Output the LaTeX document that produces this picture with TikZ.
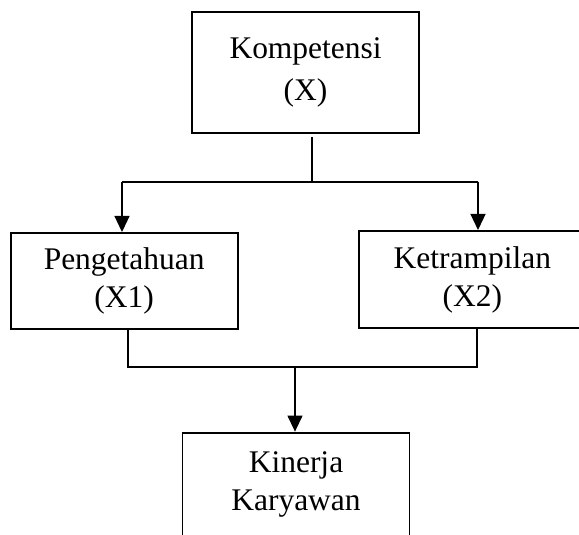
\documentclass[tikz,border=0pt]{standalone}
\usepackage{fontspec}
\setmainfont{Liberation Serif}
\usepackage{tikz}
\usetikzlibrary{arrows.meta}
\tikzset{box/.style={draw, line width=1.3pt, align=center, minimum width=5.675cm,
                     font=\fontsize{22.4}{27}\selectfont},
         link/.style={line width=1.15pt},
         arrow/.style={line width=1.6pt, -{Triangle[length=11.5pt,width=10.5pt]}}}

\begin{document}
\begin{tikzpicture}
\useasboundingbox (0,0) rectangle (14.475,13.35);
\node [box, minimum height=3.025cm] (kompetensi) at (7.64,11.54) {Kompetensi\\[3.5pt](X)};
\node [box, minimum height=2.4cm] (pengetahuan) at (3.105,6.325) {Pengetahuan\\(X1)};
\node [box, minimum height=2.43cm] (ketrampilan) at (11.81,6.36) {Ketrampilan\\(X2)};
\node [box, anchor=north, inner ysep=0.465cm, text depth=3cm] (kinerja) at (7.4,2.5575) {Kinerja\\Karyawan};
\coordinate (split) at (7.8,8.8075);
\coordinate (kl) at (3.05,8.8075);
\coordinate (kr) at (11.95,8.8075);
\coordinate (jl) at (3.2075,4.1825);
\coordinate (jr) at (11.9175,4.1825);
\coordinate (jm) at (7.375,4.1825);
\draw [link, shorten <=0.08cm] (kompetensi.south -| split)--(split);
\draw [link] (kl)--(kr);
\draw [arrow] (kl)--(pengetahuan.north -| kl);
\draw [arrow] (kr)--(ketrampilan.north -| kr);
\draw [link] (pengetahuan.south -| jl)--(jl)--(jr)--(ketrampilan.south -| jr);
\draw [arrow] (jm)--(kinerja.north -| jm);
\end{tikzpicture}
\end{document}
